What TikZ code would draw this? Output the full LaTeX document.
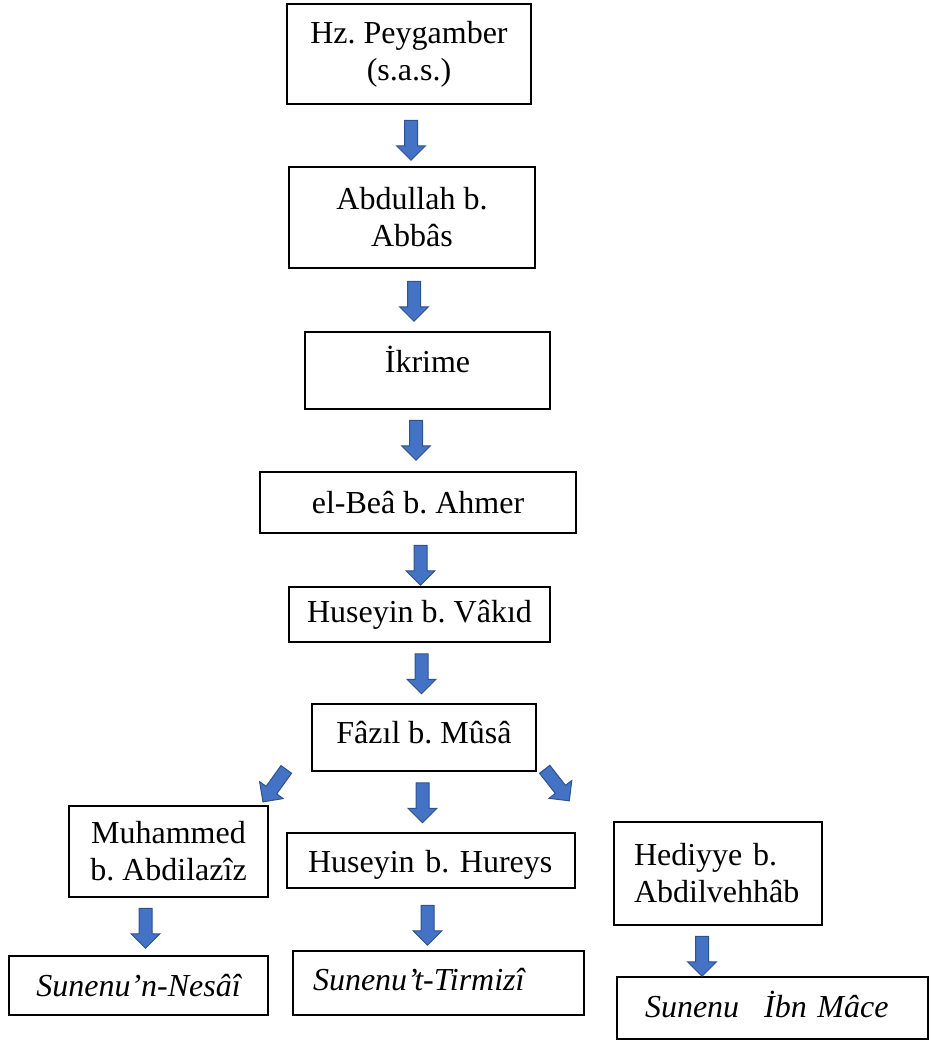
\documentclass[tikz,border=0pt]{standalone}
\usepackage{fontspec}
\setmainfont{Liberation Serif}
\usetikzlibrary{shapes.arrows}
\definecolor{arrowblue}{HTML}{4472C4}
\definecolor{arrowedge}{HTML}{2F528F}
\frenchspacing

\begin{document}
\begin{tikzpicture}[x=1pt, y=-1pt,
    box/.style={draw, line width=1.2pt, inner sep=0pt, align=center,
        font=\fontsize{32}{37}\selectfont\frenchspacing},
    leftbox/.style={box, align=left},
    blk/.style={single arrow, draw=arrowedge, fill=arrowblue, line width=1pt,
        minimum height=40pt, inner xsep=0pt, inner ysep=6pt,
        single arrow head extend=8pt, single arrow head indent=0pt}]
    \useasboundingbox (0,0) rectangle (930,1041);

    % Chain of narrators
    \node[box, minimum width=244pt, minimum height=100pt] (peyg) at (409,54) {Hz. Peygamber\\(s.a.s.)};
    \node[box, minimum width=246pt, minimum height=101pt] (abbas) at (412,217.5) {Abdullah b.\\Abbâs};
    \node[box, minimum width=245pt, minimum height=77pt, text height=22pt, text depth=19pt] (ikrime) at (427.5,370.5) {İkrime};
    \node[box, minimum width=316pt, minimum height=61pt] (bea) at (418,502.5) {el-Beâ b. Ahmer};
    \node[box, minimum width=261pt, minimum height=55pt] (vakid) at (419.5,614.5) {Huseyin b. Vâkıd};
    \node[box, minimum width=224pt, minimum height=67pt, text height=24pt, text depth=13pt] (fazil) at (424,737.5) {Fâzıl b. Mûsâ};

    % Students of Fazil
    \node[box, minimum width=199pt, minimum height=91pt] (muhammed) at (168.5,851.5) {Muhammed\\b. Abdilazîz};
    \node[leftbox, text width=246pt, inner xsep=21pt, minimum width=288pt, minimum height=55pt, text height=24pt, text depth=1pt] (hureys) at (431,860.5) {Huseyin b. Hureys};
    \node[leftbox, text width=168pt, inner xsep=20pt, minimum width=208pt, minimum height=103pt] (hediyye) at (718,873.5) {Hediyye b.\\Abdilvehhâb};

    % Collections
    \node[box, minimum width=259pt, minimum height=59pt] (nesai) at (138.5,985.5) {\itshape Sunenu’n-Nesâî};
    \node[leftbox, text width=251pt, inner xsep=20pt, minimum width=291pt, minimum height=64pt, text height=24pt, text depth=10pt] (tirmizi) at (438.5,983) {\itshape Sunenu’t-Tirmizî};
    \node[leftbox, text width=255pt, inner xsep=28pt, minimum width=311pt, minimum height=62pt, text height=27pt, text depth=9pt] (mace) at (772.5,1008) {\itshape Sunenu\hspace{0.78em}İbn Mâce};

    % Arrows
    \node[blk, rotate=-90] (ar1) at (411,137) {};
    \node[blk, rotate=-90] (ar2) at (414,298) {};
    \node[blk, rotate=-90] (ar3) at (416,437) {};
    \node[blk, rotate=-90] (ar4) at (420.5,562) {};
    \node[blk, rotate=-90] (ar5) at (421.5,670.5) {};
    \node[blk, rotate=-125.7] (ar6) at (276.5,783) {};
    \node[blk, rotate=-90] (ar7) at (422.5,799.5) {};
    \node[blk, rotate=-52] (ar8) at (555,782.5) {};
    \node[blk, rotate=-90] (ar9) at (145.5,925) {};
    \node[blk, rotate=-90] (ar10) at (427.5,922) {};
    \node[blk, rotate=-90] (ar11) at (702,953) {};
\end{tikzpicture}
\end{document}
